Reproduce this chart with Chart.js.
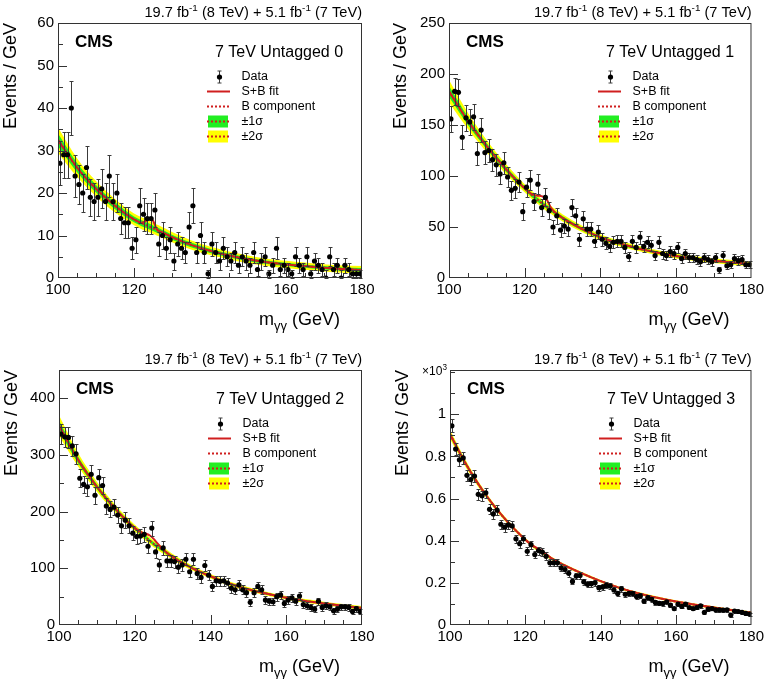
<!DOCTYPE html>
<html>
<head>
<meta charset="utf-8">
<script src="https://cdn.jsdelivr.net/npm/chart.js@4.4.1/dist/chart.umd.min.js"></script>
<style>
  body { margin: 0; background: #fff; }
  #wrap { position: relative; width: 767px; height: 679px; }
  canvas { position: absolute; }
</style>
</head>
<body>
<div id="wrap">
  <canvas id="c0" width="383" height="340" style="left:0;top:0"></canvas>
  <canvas id="c1" width="384" height="340" style="left:383px;top:0"></canvas>
  <canvas id="c2" width="383" height="339" style="left:0;top:340px"></canvas>
  <canvas id="c3" width="384" height="339" style="left:383px;top:340px"></canvas>
</div>
<script>
// Bin centres (1 GeV bins) and fit sampling points
const massBins = [
  100.5, 101.5, 102.5, 103.5, 104.5, 105.5, 106.5, 107.5, 108.5, 109.5,
  110.5, 111.5, 112.5, 113.5, 114.5, 115.5, 116.5, 117.5, 118.5, 119.5,
  120.5, 121.5, 122.5, 123.5, 124.5, 125.5, 126.5, 127.5, 128.5, 129.5,
  130.5, 131.5, 132.5, 133.5, 134.5, 135.5, 136.5, 137.5, 138.5, 139.5,
  140.5, 141.5, 142.5, 143.5, 144.5, 145.5, 146.5, 147.5, 148.5, 149.5,
  150.5, 151.5, 152.5, 153.5, 154.5, 155.5, 156.5, 157.5, 158.5, 159.5,
  160.5, 161.5, 162.5, 163.5, 164.5, 165.5, 166.5, 167.5, 168.5, 169.5,
  170.5, 171.5, 172.5, 173.5, 174.5, 175.5, 176.5, 177.5, 178.5, 179.5
];
const fitMass = [100, 105, 110, 115, 120, 122, 123, 124, 125, 126, 127, 128, 130, 135, 140, 145, 150, 155, 160, 165, 170, 175, 180];
const xTicks = [100, 120, 140, 160, 180];

// 7 TeV Untagged 0
const eventsCat0 = [
  27, 29, 29, 40, 24, 22, 20, 26, 19, 18,
  19, 21, 18, 24, 18, 20, 14, 13, 13, 7,
  9, 17, 15, 14, 14, 16, 8, 10, 7, 9,
  4, 8, 7, 6, 12, 17, 6, 10, 6, 1,
  8, 6, 4, 7, 5, 4, 6, 3, 5, 4,
  3, 6, 2, 4, 5, 1, 3, 7, 2, 3,
  2, 1, 5, 3, 2, 5, 1, 4, 3, 2,
  0, 5, 2, 3, 0, 3, 2, 1, 1, 1
];
const bkgCat0 = [32.5, 26, 21, 17, 13.8, 12.9, 12.5, 12.1, 11.7, 11.3, 10.9, 10.5, 9.6, 7.8, 6.4, 5.3, 4.4, 3.7, 3.2, 2.8, 2.4, 2.1, 1.9];
const sbCat0 = [32.5, 26, 21, 17, 13.8, 13.0, 13.3, 14.1, 13.5, 11.5, 10.9, 10.5, 9.6, 7.8, 6.4, 5.3, 4.4, 3.7, 3.2, 2.8, 2.4, 2.1, 1.9];
const err1Cat0 = [1.5, 1.1, 0.9, 0.8, 0.7, 0.7, 0.7, 0.7, 0.65, 0.65, 0.65, 0.6, 0.6, 0.55, 0.5, 0.45, 0.45, 0.4, 0.4, 0.4, 0.4, 0.4, 0.45];
const err2Cat0 = [3.0, 2.2, 1.8, 1.6, 1.4, 1.4, 1.4, 1.35, 1.3, 1.3, 1.3, 1.25, 1.2, 1.1, 1.0, 0.95, 0.9, 0.85, 0.85, 0.85, 0.85, 0.85, 0.9];
const yTicksCat0 = [0, 10, 20, 30, 40, 50, 60];

// 7 TeV Untagged 1
const eventsCat1 = [
  156, 183, 182, 138, 157, 153, 158, 122, 145, 123,
  125, 116, 111, 102, 113, 99, 86, 88, 94, 65,
  89, 96, 75, 92, 69, 79, 66, 50, 61, 47,
  51, 48, 69, 61, 38, 58, 48, 48, 36, 45,
  38, 34, 31, 35, 36, 36, 30, 21, 36, 30,
  40, 31, 35, 32, 22, 35, 24, 22, 26, 24,
  30, 19, 24, 20, 20, 18, 16, 20, 18, 16,
  20, 8, 22, 12, 13, 19, 17, 18, 13, 13
];
const bkgCat1 = [183, 154, 129, 107, 88, 81, 78, 75, 72, 69.3, 66.7, 64, 59, 48.5, 40, 34, 29, 25, 21.5, 19, 17, 15.2, 13.8];
const sbCat1 = [183, 154, 129, 107, 88, 82, 81, 80.5, 79.5, 76, 68.5, 64.5, 59, 48.5, 40, 34, 29, 25, 21.5, 19, 17, 15.2, 13.8];
const err1Cat1 = [5.5, 4, 3, 2.5, 2, 2, 2, 2, 2, 2, 2, 1.9, 1.8, 1.6, 1.5, 1.4, 1.3, 1.2, 1.2, 1.2, 1.2, 1.2, 1.3];
const err2Cat1 = [11, 8, 6, 5, 4, 4, 4, 4, 4, 4, 4, 3.8, 3.6, 3.2, 3, 2.8, 2.6, 2.5, 2.4, 2.4, 2.4, 2.4, 2.6];
const yTicksCat1 = [0, 50, 100, 150, 200, 250];

// 7 TeV Untagged 2
const eventsCat2 = [
  337, 332, 331, 316, 302, 259, 248, 244, 266, 229,
  260, 246, 210, 204, 208, 194, 175, 185, 175, 162,
  156, 157, 160, 139, 171, 129, 106, 136, 113, 113,
  112, 102, 106, 116, 94, 116, 91, 84, 105, 88,
  68, 78, 77, 78, 74, 65, 62, 71, 62, 57,
  40, 57, 68, 62, 44, 42, 41, 50, 53, 38,
  44, 48, 42, 51, 36, 34, 31, 28, 42, 31,
  34, 32, 25, 28, 32, 32, 31, 24, 29, 24
];
const bkgCat2 = [352, 292, 244, 204, 171, 159.5, 154, 148.5, 143, 138.5, 134, 129.5, 120, 101, 86, 73, 63, 55, 48, 42.5, 38, 34, 30];
const sbCat2 = [352, 292, 244, 204, 171, 163, 161, 158, 152, 144, 136.5, 130, 120, 101, 86, 73, 63, 55, 48, 42.5, 38, 34, 30];
const err1Cat2 = [9, 6, 4.5, 3.5, 3, 3, 3, 3, 3, 3, 3, 2.8, 2.6, 2.3, 2, 1.9, 1.8, 1.7, 1.6, 1.6, 1.6, 1.6, 1.7];
const err2Cat2 = [18, 12, 9, 7, 6, 6, 6, 6, 6, 6, 6, 5.6, 5.2, 4.6, 4, 3.8, 3.6, 3.4, 3.2, 3.2, 3.2, 3.2, 3.4];
const yTicksCat2 = [0, 100, 200, 300, 400];

// 7 TeV Untagged 3 (x10^3 events)
const eventsCat3 = [
  0.945, 0.835, 0.784, 0.793, 0.71, 0.69, 0.707, 0.62, 0.613, 0.627,
  0.549, 0.527, 0.545, 0.478, 0.464, 0.475, 0.47, 0.409, 0.386, 0.409,
  0.35, 0.381, 0.334, 0.353, 0.346, 0.326, 0.295, 0.295, 0.295, 0.271,
  0.263, 0.245, 0.207, 0.232, 0.235, 0.205, 0.193, 0.196, 0.2, 0.177,
  0.18, 0.188, 0.185, 0.166, 0.15, 0.172, 0.146, 0.15, 0.15, 0.135,
  0.138, 0.113, 0.13, 0.122, 0.107, 0.103, 0.102, 0.11, 0.094, 0.078,
  0.099, 0.088, 0.099, 0.083, 0.078, 0.083, 0.091, 0.06, 0.075, 0.078,
  0.072, 0.072, 0.071, 0.072, 0.047, 0.066, 0.064, 0.06, 0.055, 0.052
];
const bkgCat3 = [0.905, 0.74, 0.605, 0.495, 0.405, 0.375, 0.362, 0.349, 0.337, 0.326, 0.315, 0.305, 0.286, 0.245, 0.208, 0.176, 0.15, 0.129, 0.111, 0.096, 0.083, 0.07, 0.058];
const sbCat3 = [0.905, 0.74, 0.605, 0.495, 0.405, 0.376, 0.366, 0.356, 0.344, 0.33, 0.316, 0.305, 0.286, 0.245, 0.208, 0.176, 0.15, 0.129, 0.111, 0.096, 0.083, 0.07, 0.058];
const err1Cat3 = [0.011, 0.008, 0.006, 0.005, 0.004, 0.004, 0.004, 0.004, 0.004, 0.004, 0.004, 0.004, 0.003, 0.003, 0.003, 0.003, 0.003, 0.003, 0.003, 0.003, 0.003, 0.003, 0.003];
const err2Cat3 = [0.022, 0.016, 0.012, 0.01, 0.008, 0.008, 0.008, 0.008, 0.008, 0.008, 0.008, 0.008, 0.007, 0.006, 0.006, 0.006, 0.006, 0.006, 0.006, 0.006, 0.006, 0.006, 0.006];
const yTicksCat3 = [0, 0.2, 0.4, 0.6, 0.8, 1];

const RED = '#d01f1f';
const GREEN = '#22ee22';
const YELLOW = '#ffff00';
const FONT = "'Liberation Sans', Arial, sans-serif";

Chart.defaults.font.family = FONT;
Chart.defaults.color = '#000';

const panels = [
  { id: 'c0', label: '7 TeV Untagged 0', events: eventsCat0, bkg: bkgCat0, sb: sbCat0, err1: err1Cat0, err2: err2Cat0,
    yTicks: yTicksCat0, yMax: 60, yMinor: 5, scale: 1,
    pad: { left: 0, top: 23, right: 21, bottom: 0 }, yWidth: 58, xHeight: 62 },
  { id: 'c1', label: '7 TeV Untagged 1', events: eventsCat1, bkg: bkgCat1, sb: sbCat1, err1: err1Cat1, err2: err2Cat1,
    yTicks: yTicksCat1, yMax: 250, yMinor: 50, scale: 1,
    pad: { left: 7, top: 23, right: 15, bottom: 0 }, yWidth: 59, xHeight: 62 },
  { id: 'c2', label: '7 TeV Untagged 2', events: eventsCat2, bkg: bkgCat2, sb: sbCat2, err1: err1Cat2, err2: err2Cat2,
    yTicks: yTicksCat2, yMax: 450, yMinor: 50, scale: 1,
    pad: { left: 1, top: 30, right: 21, bottom: 0 }, yWidth: 58, xHeight: 54 },
  { id: 'c3', label: '7 TeV Untagged 3', events: eventsCat3, bkg: bkgCat3, sb: sbCat3, err1: err1Cat3, err2: err2Cat3,
    yTicks: yTicksCat3, yMax: 1.21, yMinor: 0.1, scale: 1000, exp: true,
    pad: { left: 9, top: 30, right: 15, bottom: 0 }, yWidth: 58, xHeight: 54 }
];

// text with super/subscripts
function drawParts(ctx, parts, x, y, size, align) {
  const pieces = parts.map(p => typeof p === 'string'
    ? { t: p, f: size, dy: 0 }
    : p.sup ? { t: p.sup, f: size * 0.68, dy: -size * 0.4 }
    : { t: p.sub, f: size * 0.72, dy: size * 0.28 });
  let w = 0;
  pieces.forEach(p => { ctx.font = p.f + 'px ' + FONT; p.w = ctx.measureText(p.t).width; w += p.w; });
  let cx = align === 'right' ? x - w : align === 'center' ? x - w / 2 : x;
  ctx.textAlign = 'left';
  pieces.forEach(p => { ctx.font = p.f + 'px ' + FONT; ctx.fillText(p.t, cx, y + p.dy); cx += p.w; });
}

function errorOf(v, scale) {
  const n = v * scale;
  return (n > 0 ? Math.sqrt(n) : 1.8) / scale;
}

// Poisson error bars under the data markers
const errorBars = {
  id: 'errorBars',
  beforeDatasetDraw(chart, args) {
    if (args.index !== 0) return;
    const p = chart.config.options.panel;
    const { ctx, scales: { x, y } } = chart;
    ctx.save();
    ctx.strokeStyle = '#3a3a3a';
    ctx.lineWidth = 1;
    p.events.forEach((v, i) => {
      const e = errorOf(v, p.scale);
      const px = Math.round(x.getPixelForValue(massBins[i])) + 0.5;
      const y1 = Math.round(y.getPixelForValue(v + e)) + 0.5;
      const y2 = Math.round(y.getPixelForValue(Math.max(v - e, 0))) + 0.5;
      ctx.beginPath();
      ctx.moveTo(px, y1); ctx.lineTo(px, y2);
      ctx.moveTo(px - 2, y1); ctx.lineTo(px + 2, y1);
      ctx.moveTo(px - 2, y2); ctx.lineTo(px + 2, y2);
      ctx.stroke();
    });
    ctx.restore();
  }
};

// ROOT style frame, inner ticks, labels and legend
const decorations = {
  id: 'decorations',
  afterDraw(chart) {
    const p = chart.config.options.panel;
    const { ctx, chartArea: a, scales: { x, y } } = chart;
    const L = a.left, T = a.top, R = a.right, B = a.bottom;
    ctx.save();
    ctx.strokeStyle = '#333';
    ctx.lineWidth = 1;
    ctx.strokeRect(L + 0.5, T + 0.5, R - L - 1, B - T - 1);

    ctx.beginPath();
    for (let m = 105; m < 180; m += 5) {
      const px = Math.round(x.getPixelForValue(m)) + 0.5;
      const len = m % 20 === 0 ? 10 : 5;
      ctx.moveTo(px, B); ctx.lineTo(px, B - len);
    }
    const nMinor = Math.round(p.yMax / p.yMinor);
    for (let k = 1; k <= nMinor; k++) {
      const v = k * p.yMinor;
      if (v >= p.yMax - 1e-9) break;
      const py = Math.round(y.getPixelForValue(v)) + 0.5;
      const major = p.yTicks.some(t => Math.abs(t - v) < 1e-9);
      ctx.moveTo(L, py); ctx.lineTo(L + (major ? 9 : 5), py);
    }
    ctx.stroke();

    ctx.fillStyle = '#000';
    ctx.textBaseline = 'alphabetic';
    drawParts(ctx, ['19.7 fb', { sup: '-1' }, ' (8 TeV) + 5.1 fb', { sup: '-1' }, ' (7 TeV)'], R, T - 6, 14.6, 'right');
    drawParts(ctx, ['m', { sub: '\u03b3\u03b3' }, ' (GeV)'], R - 22, B + 47, 18, 'right');
    if (p.exp) drawParts(ctx, ['\u00d710', { sup: '3' }], L - 3, T + 5, 12, 'right');

    ctx.textBaseline = 'middle';
    ctx.textAlign = 'left';
    ctx.font = 'bold 17px ' + FONT;
    ctx.fillText('CMS', L + 17, T + 19);
    ctx.font = '16px ' + FONT;
    ctx.fillText(p.label, L + 157, T + 30);

    // legend
    const lx = L + 149, tx = L + 183.5;
    const rows = [T + 54, T + 68.5, T + 83.5, T + 98.5, T + 113.5];
    ctx.strokeStyle = '#3a3a3a';
    ctx.beginPath();
    ctx.moveTo(L + 161.5, rows[0] - 6); ctx.lineTo(L + 161.5, rows[0] + 6);
    ctx.moveTo(L + 159.5, rows[0] - 6); ctx.lineTo(L + 163.5, rows[0] - 6);
    ctx.moveTo(L + 159.5, rows[0] + 6); ctx.lineTo(L + 163.5, rows[0] + 6);
    ctx.stroke();
    ctx.fillStyle = '#000';
    ctx.beginPath(); ctx.arc(L + 161.5, rows[0], 2.6, 0, Math.PI * 2); ctx.fill();

    ctx.fillStyle = GREEN; ctx.fillRect(lx + 1, rows[3] - 6, 20, 12);
    ctx.fillStyle = YELLOW; ctx.fillRect(lx + 1, rows[4] - 6, 20, 12);

    ctx.strokeStyle = RED;
    ctx.lineWidth = 2;
    ctx.beginPath(); ctx.moveTo(lx, rows[1]); ctx.lineTo(lx + 23, rows[1]); ctx.stroke();
    ctx.setLineDash([2, 2]);
    [2, 3, 4].forEach(r => { ctx.beginPath(); ctx.moveTo(lx, rows[r]); ctx.lineTo(lx + 23, rows[r]); ctx.stroke(); });
    ctx.setLineDash([]);

    ctx.fillStyle = '#000';
    ctx.font = '12.5px ' + FONT;
    ['Data', 'S+B fit', 'B component', '\u00b11\u03c3', '\u00b12\u03c3'].forEach((t, i) => ctx.fillText(t, tx, rows[i]));
    ctx.restore();
  }
};

function buildChart(p) {
  const pts = (xs, ys) => xs.map((x, i) => ({ x, y: ys[i] }));
  const shift = (ys, es, s) => ys.map((v, i) => v + s * es[i]);
  const curve = { pointRadius: 0, fill: false, cubicInterpolationMode: 'monotone', borderWidth: 2 };
  const band = { ...curve, borderWidth: 0, borderColor: 'rgba(0,0,0,0)' };
  const fmt = v => String(+v.toFixed(2));

  new Chart(document.getElementById(p.id), {
    type: 'line',
    data: {
      datasets: [
        { label: 'Data', data: pts(massBins, p.events), showLine: false, pointRadius: 2.6,
          pointBackgroundColor: '#000', pointBorderWidth: 0, order: 0 },
        { ...curve, label: 'S+B fit', data: pts(fitMass, p.sb), borderColor: RED, order: 1 },
        { ...curve, label: 'B component', data: pts(fitMass, p.bkg), borderColor: RED, borderDash: [2, 2], order: 2 },
        { ...band, label: '+1 sigma', data: pts(fitMass, shift(p.bkg, p.err1, 1)), fill: '+1', backgroundColor: GREEN, order: 3 },
        { ...band, label: '-1 sigma', data: pts(fitMass, shift(p.bkg, p.err1, -1)), order: 4 },
        { ...band, label: '+2 sigma', data: pts(fitMass, shift(p.bkg, p.err2, 1)), fill: '+1', backgroundColor: YELLOW, order: 5 },
        { ...band, label: '-2 sigma', data: pts(fitMass, shift(p.bkg, p.err2, -1)), order: 6 }
      ]
    },
    options: {
      panel: p,
      responsive: false,
      animation: false,
      events: [],
      layout: { padding: p.pad },
      plugins: { legend: { display: false }, tooltip: { enabled: false } },
      scales: {
        x: {
          type: 'linear', min: 100, max: 180,
          grid: { display: false, drawTicks: false },
          border: { display: false },
          ticks: { padding: 3, maxRotation: 0, autoSkip: false, font: { size: 15 }, callback: fmt },
          afterBuildTicks: s => { s.ticks = xTicks.map(v => ({ value: v })); },
          afterFit: s => { s.height = p.xHeight; }
        },
        y: {
          type: 'linear', min: 0, max: p.yMax,
          grid: { display: false, drawTicks: false },
          border: { display: false },
          ticks: { padding: 4, autoSkip: false, font: { size: 15 }, callback: fmt },
          afterBuildTicks: s => { s.ticks = p.yTicks.map(v => ({ value: v })); },
          afterFit: s => { s.width = p.yWidth; },
          title: { display: true, text: 'Events / GeV', align: 'end', padding: 0, font: { size: 18 }, color: '#000' }
        }
      }
    },
    plugins: [errorBars, decorations]
  });
}

panels.forEach(buildChart);
</script>
</body>
</html>
